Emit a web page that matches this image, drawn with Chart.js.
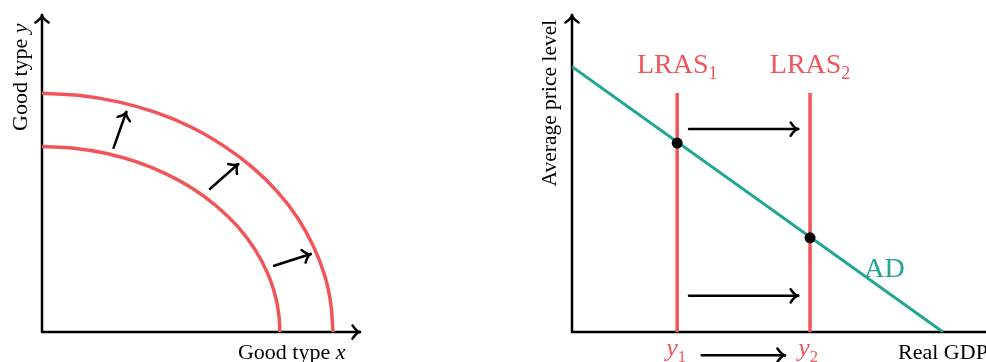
<!DOCTYPE html>
<html>
<head>
<meta charset="utf-8">
<script src="https://cdn.jsdelivr.net/npm/chart.js@4.4.1/dist/chart.umd.min.js"></script>
<style>
  html, body { margin: 0; padding: 0; background: #fff; overflow: hidden; }
  body { width: 986px; height: 362px; position: relative; }
  #left { position: absolute; left: 0; top: 0; }
  #right { position: absolute; left: 530px; top: 0; }
</style>
</head>
<body>
<canvas id="left" width="400" height="362"></canvas>
<canvas id="right" width="500" height="362"></canvas>
<script>
var RED = "#f0555a";
var TEAL = "#22a595";
var FONT = "'Liberation Serif', 'DejaVu Serif', serif";

// left panel: production possibilities frontiers (goods x / goods y)
var ppfInnerX = [0, 1.0, 2.0, 3.0, 3.9, 4.75, 5.5, 6.15, 6.7, 7.1, 7.35, 7.45, 7.48];
var ppfInnerY = [5.85, 5.80, 5.64, 5.36, 4.99, 4.52, 3.96, 3.33, 2.60, 1.84, 1.09, 0.52, 0];
var ppfOuterX = [0, 1.2, 2.4, 3.6, 4.7, 5.7, 6.6, 7.4, 8.05, 8.55, 8.9, 9.08, 9.15];
var ppfOuterY = [7.53, 7.46, 7.26, 6.92, 6.46, 5.88, 5.21, 4.43, 3.58, 2.67, 1.75, 0.90, 0];
// shift arrows: [x1, y1, x2, y2]
var shiftArrows = [[2.25, 5.81, 2.65, 6.94], [5.28, 4.51, 6.17, 5.30], [7.30, 2.09, 8.45, 2.46]];

// right panel: AD / LRAS
var adX = [0, 84.3];
var adY = [83.7, 0];
var lrasX = [23.9, 54.1];
var lrasTop = 75.4;
var eqY = [59.6, 29.7];
var gdpArrows = [[26.6, 64, 51.4, 64], [26.6, 11.4, 51.4, 11.4], [29.5, -7.3, 48.4, -7.3]];

var leftLabels = [
    { parts: [{ t: "Good type " }, { t: "x", it: true }], x: 6.16, y: -0.85, size: 22, color: "#000", align: "left" },
    { parts: [{ t: "Good type " }, { t: "y", it: true }], x: -0.47, y: 8.04, size: 22, color: "#000", align: "center", rotate: true }
];
var rightLabels = [
    { parts: [{ t: "LRAS" }, { t: "1", sub: true }], x: lrasX[0], y: 81.7, size: 28, color: RED, align: "center" },
    { parts: [{ t: "LRAS" }, { t: "2", sub: true }], x: lrasX[1], y: 81.7, size: 28, color: RED, align: "center" },
    { parts: [{ t: "AD" }], x: 66.4, y: 17.4, size: 28, color: TEAL, align: "left" },
    { parts: [{ t: "y", it: true }, { t: "1", sub: true }], x: 21.4, y: -7.6, size: 26, color: RED, align: "left" },
    { parts: [{ t: "y", it: true }, { t: "2", sub: true }], x: 51.4, y: -7.6, size: 26, color: RED, align: "left" },
    { parts: [{ t: "Real GDP" }], x: 74.1, y: -8.5, size: 22, color: "#000", align: "left" },
    { parts: [{ t: "Average price level" }], x: -3.6, y: 72.2, size: 21.5, color: "#000", align: "center", rotate: true }
];

function pts(xs, ys) {
    return xs.map(function (x, i) { return { x: x, y: ys[i] }; });
}

function arrowHead(ctx, x1, y1, x2, y2) {
    var a = Math.atan2(y2 - y1, x2 - x1), len = 10, spread = 0.72;
    ctx.beginPath();
    ctx.moveTo(x2 - len * Math.cos(a - spread), y2 - len * Math.sin(a - spread));
    ctx.quadraticCurveTo(x2 - 3 * Math.cos(a), y2 - 3 * Math.sin(a), x2, y2);
    ctx.quadraticCurveTo(x2 - 3 * Math.cos(a), y2 - 3 * Math.sin(a),
        x2 - len * Math.cos(a + spread), y2 - len * Math.sin(a + spread));
    ctx.stroke();
}

function drawLabel(ctx, lb, x, y) {
    ctx.save();
    ctx.translate(x, y);
    if (lb.rotate) ctx.rotate(-Math.PI / 2);
    var pieces = [], w = 0;
    lb.parts.forEach(function (p) {
        var f = (p.it ? "italic " : "") + (p.sub ? lb.size * 0.64 : lb.size) + "px " + FONT;
        ctx.font = f;
        var pw = ctx.measureText(p.t).width;
        pieces.push({ t: p.t, f: f, w: pw, dy: p.sub ? lb.size * 0.22 : 0 });
        w += pw;
    });
    var start = lb.align === "center" ? -w / 2 : 0;
    ctx.fillStyle = lb.color;
    ctx.textAlign = "left";
    ctx.textBaseline = "alphabetic";
    pieces.forEach(function (p) {
        ctx.font = p.f;
        ctx.fillText(p.t, start, p.dy);
        start += p.w;
    });
    ctx.restore();
}

var sketchPlugin = {
    id: "sketch",
    beforeDatasetsDraw: function (chart) {
        var ctx = chart.ctx, xs = chart.scales.x, ys = chart.scales.y;
        var x0 = xs.getPixelForValue(0), y0 = ys.getPixelForValue(0);
        var xEnd = xs.getPixelForValue(xs.max), yEnd = ys.getPixelForValue(ys.max);
        ctx.save();
        ctx.strokeStyle = "#000";
        ctx.lineWidth = 2.5;
        ctx.lineCap = "round";
        ctx.lineJoin = "round";
        ctx.beginPath();
        ctx.moveTo(x0, yEnd);
        ctx.lineTo(x0, y0);
        ctx.lineTo(xEnd, y0);
        ctx.stroke();
        arrowHead(ctx, x0, y0, x0, yEnd);
        arrowHead(ctx, x0, y0, xEnd, y0);
        ctx.restore();
    },
    afterDatasetsDraw: function (chart, args, opts) {
        var ctx = chart.ctx, xs = chart.scales.x, ys = chart.scales.y;
        ctx.save();
        ctx.strokeStyle = "#000";
        ctx.lineWidth = 2.5;
        ctx.lineCap = "round";
        ctx.lineJoin = "round";
        (opts.arrows || []).forEach(function (a) {
            var x1 = xs.getPixelForValue(a[0]), y1 = ys.getPixelForValue(a[1]);
            var x2 = xs.getPixelForValue(a[2]), y2 = ys.getPixelForValue(a[3]);
            ctx.beginPath();
            ctx.moveTo(x1, y1);
            ctx.lineTo(x2, y2);
            ctx.stroke();
            arrowHead(ctx, x1, y1, x2, y2);
        });
        (opts.labels || []).forEach(function (lb) {
            drawLabel(ctx, lb, xs.getPixelForValue(lb.x), ys.getPixelForValue(lb.y));
        });
        ctx.restore();
    }
};

function baseOptions(pad, xMax, yMax, arrows, labels) {
    return {
        responsive: false,
        animation: false,
        events: [],
        layout: { padding: pad },
        scales: {
            x: { type: "linear", display: false, min: 0, max: xMax },
            y: { type: "linear", display: false, min: 0, max: yMax }
        },
        plugins: {
            legend: { display: false },
            tooltip: { enabled: false },
            sketch: { arrows: arrows, labels: labels }
        }
    };
}

new Chart(document.getElementById("left"), {
    type: "scatter",
    data: {
        datasets: [
            { data: pts(ppfInnerX, ppfInnerY), showLine: true, borderColor: RED, borderWidth: 3.5, pointRadius: 0, tension: 0.4 },
            { data: pts(ppfOuterX, ppfOuterY), showLine: true, borderColor: RED, borderWidth: 3.5, pointRadius: 0, tension: 0.4 }
        ]
    },
    options: baseOptions({ left: 42, top: 15, right: 40, bottom: 30 }, 10, 10, shiftArrows, leftLabels),
    plugins: [sketchPlugin]
});

new Chart(document.getElementById("right"), {
    type: "scatter",
    data: {
        datasets: [
            { data: pts(lrasX, eqY), pointRadius: 5.5, pointBackgroundColor: "#000", pointBorderWidth: 0 },
            { data: [{ x: lrasX[0], y: 0 }, { x: lrasX[0], y: lrasTop }], showLine: true, borderColor: RED, borderWidth: 3.5, pointRadius: 0 },
            { data: [{ x: lrasX[1], y: 0 }, { x: lrasX[1], y: lrasTop }], showLine: true, borderColor: RED, borderWidth: 3.5, pointRadius: 0 },
            { data: pts(adX, adY), showLine: true, borderColor: TEAL, borderWidth: 3, pointRadius: 0 }
        ]
    },
    options: baseOptions({ left: 42, top: 15, right: 18, bottom: 30 }, 100, 100, gdpArrows, rightLabels),
    plugins: [sketchPlugin]
});
</script>
</body>
</html>
